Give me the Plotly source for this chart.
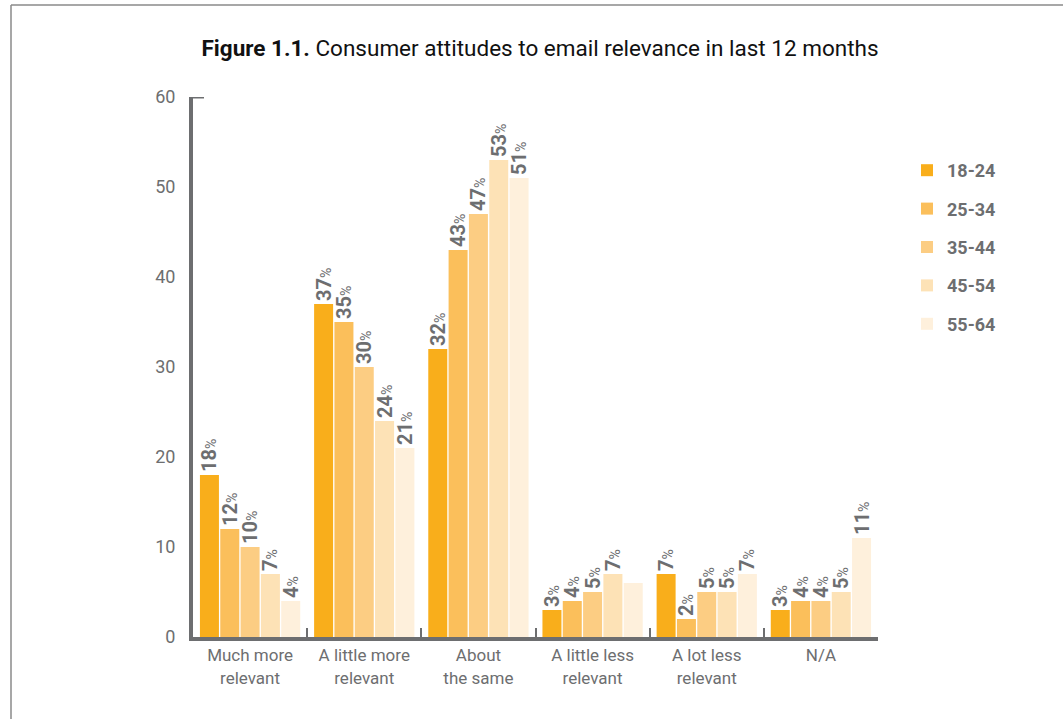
import plotly.graph_objects as go

categories = ["Much more<br>relevant", "A little more<br>relevant", "About<br>the same",
              "A little less<br>relevant", "A lot less<br>relevant", "N/A"]
age_groups = ["18-24", "25-34", "35-44", "45-54", "55-64"]
values = {
    "18-24": [18, 37, 32, 3, 7, 3],
    "25-34": [12, 35, 43, 4, 2, 4],
    "35-44": [10, 30, 47, 5, 5, 4],
    "45-54": [7, 24, 53, 7, 5, 5],
    "55-64": [4, 21, 51, 6, 7, 11],
}
show_label = {
    "18-24": [True] * 6,
    "25-34": [True] * 6,
    "35-44": [True] * 6,
    "45-54": [True] * 6,
    "55-64": [True, True, True, False, True, True],
}
colors = ["#F9AE1B", "#FBBF5B", "#FCCD83", "#FDE2B6", "#FEF0DC"]

GRAY = "#6d6e70"
FONT = "Liberation Sans Narrow, Roboto, Arial, sans-serif"

fig = go.Figure()
for name, col in zip(age_groups, colors):
    vals = values[name]
    texts = [f"<b>{v}</b><span style='font-size:14px'>%</span>" if s else ""
             for v, s in zip(vals, show_label[name])]
    fig.add_trace(go.Bar(
        x=categories, y=vals, name=name, legendgroup=name,
        marker=dict(color=col, line=dict(width=0)),
        text=texts, textposition="outside", textangle=-90,
        constraintext="none", cliponaxis=False,
        textfont=dict(family=FONT, size=20, color=GRAY),
        hoverinfo="skip",
    ))

L, R, T, B = 193, 185, 97, 82
W, H = 1063, 719
pw, ph = W - L - R, H - T - B

def px_x(p):
    return (p - L) / pw

def px_y(p):
    return (H - B - p) / ph

fig.update_layout(
    width=W, height=H,
    margin=dict(l=L, r=R, t=T, b=B, autoexpand=False),
    paper_bgcolor="white", plot_bgcolor="white",
    barmode="group", bargap=0.11, bargroupgap=0.065,
    font=dict(family=FONT, color=GRAY),
    title=dict(
        text="<b>Figure 1.1.</b> Consumer attitudes to email relevance in last 12 months",
        font=dict(family=FONT, size=22.5, color="#111111"),
        x=px_x(540), xref="paper", xanchor="center",
        y=1 - 48 / H, yanchor="middle",
    ),
    showlegend=True,
    legend=dict(
        x=px_x(907), y=px_y(152), xanchor="left", yanchor="top",
        font=dict(family=FONT, size=18, color=GRAY, weight="bold"),
        tracegroupgap=12, itemwidth=30, traceorder="grouped",
        bgcolor="rgba(0,0,0,0)",
    ),
    xaxis=dict(
        showline=True, linewidth=4, linecolor=GRAY,
        ticks="inside", tickson="boundaries", ticklen=9, tickwidth=2, tickcolor=GRAY,
        tickfont=dict(family=FONT, size=17, color=GRAY),
        showgrid=False, zeroline=False,
    ),
    yaxis=dict(
        range=[0, 60], tickvals=[0, 10, 20, 30, 40, 50, 60],
        showline=True, linewidth=4, linecolor=GRAY,
        ticks="", showgrid=False, zeroline=False,
        tickfont=dict(family=FONT, size=18, color=GRAY),
        ticklabelstandoff=10,
    ),
    shapes=[
        # frame lines
        dict(type="line", xref="paper", yref="paper",
             x0=px_x(11), x1=px_x(1070), y0=px_y(5), y1=px_y(5),
             line=dict(color="#8a8a8a", width=1.5)),
        dict(type="line", xref="paper", yref="paper",
             x0=px_x(11), x1=px_x(11), y0=px_y(5), y1=px_y(725),
             line=dict(color="#8a8a8a", width=1.5)),
        # top stub of y axis
        dict(type="line", xref="paper", yref="y",
             x0=px_x(191), x1=px_x(204), y0=60, y1=60,
             line=dict(color=GRAY, width=3)),
    ],
)

fig.write_html("out.html")
